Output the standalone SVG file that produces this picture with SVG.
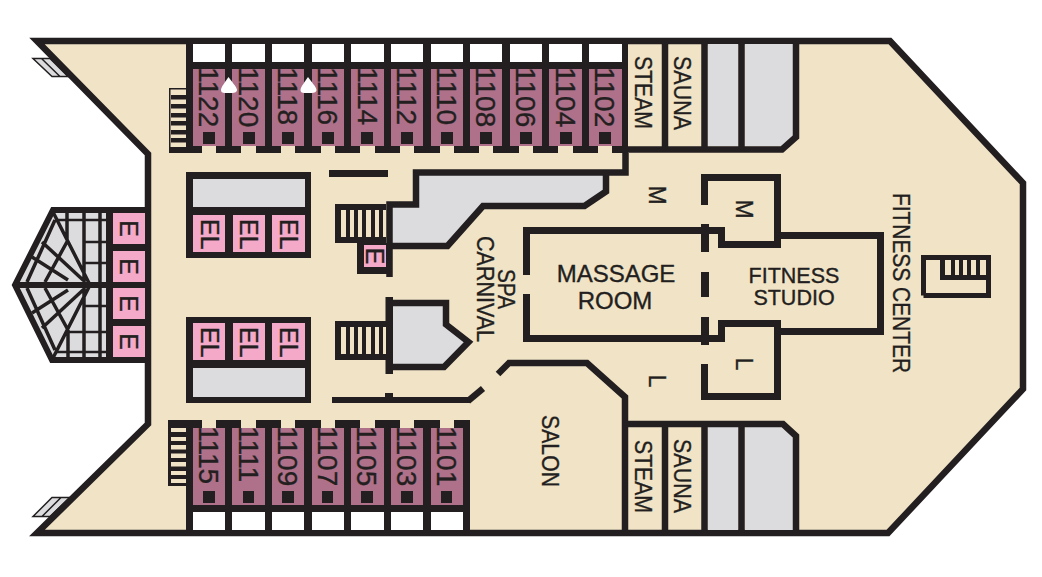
<svg xmlns="http://www.w3.org/2000/svg" width="1042" height="577" viewBox="0 0 1042 577">
<style>
.w{fill:#231f20}.t{fill:#f1e3c6}.wh{fill:#fff}.p{fill:#ae7189}.e{fill:#f5a9c8}.g{fill:#dcdcde}
.wall{fill:none;stroke:#231f20;stroke-width:7;stroke-miterlimit:10}
.wg{fill:#dcdcde;stroke:#231f20;stroke-width:6.5;stroke-miterlimit:10}
.lat{fill:none;stroke:#231f20;stroke-width:3.5}
.lab{font-family:"Liberation Sans",Arial,sans-serif;font-size:23.5px;fill:#231f20;stroke:#231f20;stroke-width:.35}
.num{font-size:28px}.el{font-size:25px}.m{font-size:23px}.big{font-size:24px}.fs{font-size:21.5px}
</style>
<rect width="1042" height="577" fill="#fff"/>
<g id="gangways">
<path d="M33 58.500H50L68 76.500H52ZM41.500 58.500L60 76.500M33 516.500H50L70 497.500H52ZM42 516.500L61 497.500" fill="#dcdcde" stroke="#231f20" stroke-width="1.500"/>
</g>
<g id="hull">
<path d="M37 41H890L1023 183V389L888 533H37L148 424V154Z" fill="#f1e3c6" stroke="#231f20" stroke-width="6.500" stroke-miterlimit="10"/>
</g>
<g id="atrium">
<path d="M53 210H148V360H52L15 285Z" fill="#dcdcde" stroke="#231f20" stroke-width="6" stroke-miterlimit="10"/>
<path class="lat" d="M67 211V240M68 330V358M84 211V359M100 211V359M53 212L90 285L53 358M42 242L83 280M32 257L68 280M55 220L27 282M68 240L45 282M42 328L83 290M32 313L68 290M55 350L27 288M68 330L45 288"/>
<path class="lat" style="stroke-width:2.500" d="M56 220H106M85 242H106M84 263H106M84 306H106M68 332H106M56 352H106"/>
<rect class="w" x="15" y="282" width="98" height="6"/>
<rect class="w" x="106" y="207" width="42" height="155"/>
<rect class="e" x="113" y="213" width="32" height="31"/>
<rect class="e" x="113" y="251" width="32" height="31"/>
<rect class="e" x="113" y="288" width="32" height="31"/>
<rect class="e" x="113" y="326" width="32" height="31"/>
</g>
<g id="cabins-top">
<rect class="t" x="169" y="88" width="17" height="60"/>
<path class="w" d="M169 88h17v1.500h-15.500V147H169ZM171 95h15v4.500h-15ZM171 104h15v4.500h-15ZM171 113h15v4.500h-15ZM171 121h15v4.500h-15ZM171 130h15v4.500h-15ZM171 138h15v4.500h-15ZM169 147h20v6h-20Z"/>
<rect class="w" x="186" y="38" width="442" height="115"/>
<g class="wh"><rect x="193" y="44" width="32" height="18"/><rect x="232" y="44" width="33" height="18"/><rect x="272" y="44" width="32" height="18"/><rect x="312" y="44" width="32" height="18"/><rect x="351" y="44" width="33" height="18"/><rect x="391" y="44" width="32" height="18"/><rect x="431" y="44" width="32" height="18"/><rect x="470" y="44" width="32" height="18"/><rect x="510" y="44" width="32" height="18"/><rect x="549" y="44" width="33" height="18"/><rect x="589" y="44" width="33" height="18"/></g>
<g class="p"><rect x="193" y="69" width="32" height="77"/><rect x="232" y="69" width="33" height="77"/><rect x="272" y="69" width="32" height="77"/><rect x="312" y="69" width="32" height="77"/><rect x="351" y="69" width="33" height="77"/><rect x="391" y="69" width="32" height="77"/><rect x="431" y="69" width="32" height="77"/><rect x="470" y="69" width="32" height="77"/><rect x="510" y="69" width="32" height="77"/><rect x="549" y="69" width="33" height="77"/><rect x="589" y="69" width="33" height="77"/></g>
<g class="t"><rect x="202" y="146" width="14" height="7"/><rect x="241" y="146" width="15" height="7"/><rect x="281" y="146" width="14" height="7"/><rect x="321" y="146" width="14" height="7"/><rect x="360" y="146" width="15" height="7"/><rect x="400" y="146" width="14" height="7"/><rect x="440" y="146" width="14" height="7"/><rect x="479" y="146" width="14" height="7"/><rect x="519" y="146" width="14" height="7"/><rect x="558" y="146" width="15" height="7"/><rect x="598" y="146" width="14" height="7"/></g>
<g class="w"><rect x="203" y="132" width="12" height="12"/><rect x="243" y="132" width="12" height="12"/><rect x="282" y="132" width="12" height="12"/><rect x="322" y="132" width="12" height="12"/><rect x="361" y="132" width="12" height="12"/><rect x="401" y="132" width="12" height="12"/><rect x="441" y="132" width="12" height="12"/><rect x="480" y="132" width="12" height="12"/><rect x="520" y="132" width="12" height="12"/><rect x="560" y="132" width="12" height="12"/><rect x="599" y="132" width="12" height="12"/></g>
<path class="wh" d="M228.500 77C231 81 237 87 237 90C237 92 235 93 232 93H225C222 93 221 92 221 90C221 87 226 81 228.500 77ZM308 77C310.500 81 316.500 87 316.500 90C316.500 92 314.500 93 311.500 93H304.500C301.500 93 300.500 92 300.500 90C300.500 87 305.500 81 308 77Z"/>
</g>
<g id="cabins-bottom">
<rect class="w" x="168" y="428" width="18" height="58"/>
<g class="t"><rect x="171" y="428" width="15" height="4"/><rect x="171" y="437" width="15" height="4"/><rect x="171" y="445" width="15" height="4.500"/><rect x="171" y="453.500" width="15" height="4.500"/><rect x="171" y="462" width="15" height="4.500"/><rect x="171" y="471" width="15" height="4"/><rect x="171" y="479" width="15" height="4"/></g>
<rect class="w" x="168" y="420" width="20" height="8"/>
<rect class="w" x="186" y="420" width="284" height="116"/>
<g class="wh"><rect x="193" y="512" width="32" height="18"/><rect x="232" y="512" width="33" height="18"/><rect x="272" y="512" width="32" height="18"/><rect x="312" y="512" width="32" height="18"/><rect x="351" y="512" width="33" height="18"/><rect x="391" y="512" width="32" height="18"/><rect x="431" y="512" width="32" height="18"/></g>
<g class="p"><rect x="193" y="428" width="32" height="77"/><rect x="232" y="428" width="33" height="77"/><rect x="272" y="428" width="32" height="77"/><rect x="312" y="428" width="32" height="77"/><rect x="351" y="428" width="33" height="77"/><rect x="391" y="428" width="32" height="77"/><rect x="431" y="428" width="32" height="77"/></g>
<g class="t"><rect x="202" y="420" width="14" height="8"/><rect x="241" y="420" width="15" height="8"/><rect x="281" y="420" width="14" height="8"/><rect x="321" y="420" width="14" height="8"/><rect x="360" y="420" width="15" height="8"/><rect x="400" y="420" width="14" height="8"/><rect x="440" y="420" width="14" height="8"/></g>
<g class="w"><rect x="203" y="491" width="12" height="12"/><rect x="243" y="491" width="11" height="12"/><rect x="282" y="491" width="12" height="12"/><rect x="322" y="491" width="11" height="12"/><rect x="361" y="491" width="12" height="12"/><rect x="401" y="491" width="12" height="12"/><rect x="441" y="491" width="11" height="12"/></g>
</g>
<g id="elevators-top">
<rect class="w" x="186" y="172" width="125" height="86"/>
<rect class="g" x="193" y="179" width="112" height="28"/>
<rect class="e" x="193" y="215" width="32" height="37"/><rect class="e" x="233" y="215" width="32" height="37"/><rect class="e" x="272" y="215" width="33" height="37"/>
</g>
<g id="elevators-bottom">
<rect class="w" x="186" y="317" width="125" height="86"/>
<rect class="g" x="193" y="368" width="112" height="29"/>
<rect class="e" x="193" y="323" width="32" height="37"/><rect class="e" x="233" y="323" width="32" height="37"/><rect class="e" x="272" y="323" width="33" height="37"/>
</g>
<g id="core-top">
<path d="M625.500 172.500H416V204.500H389.500V246H449L482 206H585L606 192V172.500Z" fill="#dcdcde" stroke="none"/>
<path class="wall" style="stroke-width:6.500" d="M625.500 153V172.500H416V204.500H389.500V277M389.500 246H447.500L483 206H584.500L606 191.500V172.500"/>
<rect class="w" x="329" y="170" width="59" height="7"/>
<rect class="w" x="335" y="204" width="51" height="39"/>
<rect class="t" x="341" y="210" width="45" height="27"/>
<path class="w" d="M346 210h4v27h-4ZM354 210h4v27h-4ZM362 210h4v27h-4ZM371 210h4v27h-4ZM379 210h4v27h-4Z"/>
<rect class="w" x="357" y="243" width="30" height="31"/>
<rect class="e" x="364" y="245" width="22" height="22"/>
</g>
<g id="core-bottom">
<path class="wg" d="M389.500 303H446V324.500L468.500 342L444 367H389.500Z"/>
<rect class="w" x="385.500" y="297" width="7.500" height="77"/>
<rect class="w" x="335" y="321" width="51" height="39"/>
<rect class="t" x="341" y="327" width="45" height="27"/>
<path class="w" d="M346 327h4v27h-4ZM354 327h4v27h-4ZM362 327h4v27h-4ZM371 327h4v27h-4ZM379 327h4v27h-4Z"/>
<rect class="w" x="332" y="397" width="138" height="6"/>
<rect class="w" x="385" y="393" width="8" height="4"/>
<path class="wall" style="stroke-width:6.500" d="M468 401L483 388.500"/>
</g>
<g id="salon">
<path class="wall" style="stroke-width:6.500" d="M498 374L509 363H587L625 397V530"/>
</g>
<g id="spa-walls">
<path class="wall" d="M526.500 294V338.500H721.500V323.500H777.500V396.500H704.500V364M526.500 275V230.500H721.500V244.500H777.500V177.500H704.500V205M781 235.500H880.500V331.500H781"/>
<rect class="w" x="701" y="224" width="8" height="28"/>
<rect class="w" x="701" y="272" width="8" height="25"/>
<rect class="w" x="701" y="317" width="8" height="28"/>
<path class="wall" style="stroke-width:5" d="M923.500 295.500V257.500H988.500V295.500H923.500"/>
<path class="w" d="M940 258h5v17h46v5h-51ZM951 258h4v17h-4ZM959 258h4v17h-4ZM967 258h4v17h-4ZM976 258h4v17h-4Z"/>
</g>
<g id="wet-top">
<rect class="g" x="708" y="44" width="30" height="102"/>
<path class="g" d="M745 44H793V136L781 146H745Z"/>
<path class="wall" style="stroke-width:6.500" d="M622 149.500H782L796 137V41M665 41V149M704.500 41V149M741.500 41V149"/>
</g>
<g id="wet-bottom">
<rect class="g" x="708" y="427" width="30" height="103"/>
<path class="g" d="M745 427H781L793 437V530H745Z"/>
<path class="wall" style="stroke-width:6.500" d="M625 424H783L796 436V533M665 424V533M704.500 424V533M741.500 424V533"/>
</g>
<g id="labels" class="lab">
<g class="num">
<text transform="translate(199 67) rotate(90)">1122</text><text transform="translate(239 67) rotate(90)">1120</text><text transform="translate(278 67) rotate(90)">1118</text><text transform="translate(318 67) rotate(90)">1116</text><text transform="translate(358 67) rotate(90)">1114</text><text transform="translate(397 67) rotate(90)">1112</text><text transform="translate(437 67) rotate(90)">1110</text><text transform="translate(476 67) rotate(90)">1108</text><text transform="translate(516 67) rotate(90)">1106</text><text transform="translate(556 67) rotate(90)">1104</text><text transform="translate(595 67) rotate(90)">1102</text>
<text transform="translate(199 426) rotate(90)">1115</text><text transform="translate(239 426) rotate(90)">1111</text><text transform="translate(278 426) rotate(90)">1109</text><text transform="translate(318 426) rotate(90)">1107</text><text transform="translate(357 426) rotate(90)">1105</text><text transform="translate(397 426) rotate(90)">1103</text><text transform="translate(437 426) rotate(90)">1101</text>
</g>
<g class="el">
<text transform="translate(201 219) rotate(90)">EL</text><text transform="translate(240 219) rotate(90)">EL</text><text transform="translate(280 219) rotate(90)">EL</text>
<text transform="translate(201 327) rotate(90)">EL</text><text transform="translate(240 327) rotate(90)">EL</text><text transform="translate(280 327) rotate(90)">EL</text>
<text transform="translate(120 228.500) rotate(90)" text-anchor="middle">E</text><text transform="translate(120 266.500) rotate(90)" text-anchor="middle">E</text><text transform="translate(120 303.500) rotate(90)" text-anchor="middle">E</text><text transform="translate(120 341.500) rotate(90)" text-anchor="middle">E</text>
<text transform="translate(366 256) rotate(90)" text-anchor="middle">E</text>
</g>
<g class="m">
<text transform="translate(649 195) rotate(90)" text-anchor="middle">M</text>
<text transform="translate(736 209) rotate(90)" text-anchor="middle">M</text>
<text transform="translate(736 364) rotate(90)" text-anchor="middle">L</text>
<text transform="translate(649 381) rotate(90)" text-anchor="middle">L</text>
</g>
<text transform="translate(635 56) rotate(90)" textLength="73" lengthAdjust="spacingAndGlyphs">STEAM</text>
<text transform="translate(674 56) rotate(90)" textLength="74" lengthAdjust="spacingAndGlyphs">SAUNA</text>
<text transform="translate(635 440) rotate(90)" textLength="73" lengthAdjust="spacingAndGlyphs">STEAM</text>
<text transform="translate(674 439) rotate(90)" textLength="74" lengthAdjust="spacingAndGlyphs">SAUNA</text>
<text transform="translate(542 415) rotate(90)" textLength="72" lengthAdjust="spacingAndGlyphs">SALON</text>
<text transform="translate(498 269) rotate(90)" textLength="40" lengthAdjust="spacingAndGlyphs">SPA</text>
<text transform="translate(477 236) rotate(90)" textLength="106" lengthAdjust="spacingAndGlyphs">CARNIVAL</text>
<text transform="translate(893 193) rotate(90)" textLength="180" lengthAdjust="spacingAndGlyphs">FITNESS CENTER</text>
<text class="big" x="616" y="282" text-anchor="middle">MASSAGE</text>
<text class="big" x="615" y="309" text-anchor="middle">ROOM</text>
<text class="fs" x="794" y="283" text-anchor="middle">FITNESS</text>
<text class="fs" x="794" y="305" text-anchor="middle">STUDIO</text>
</g>
</svg>
